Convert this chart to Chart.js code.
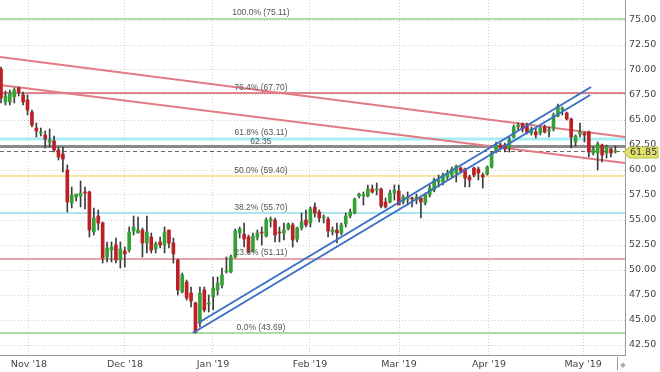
<!DOCTYPE html>
<html>
<head>
<meta charset="utf-8">
<script src="https://cdn.jsdelivr.net/npm/chart.js@4.4.0/dist/chart.umd.min.js"></script>
<style>
  html, body { margin: 0; padding: 0; background: #fff; }
  #wrap { width: 660px; height: 372px; position: relative; }
</style>
</head>
<body>
<div id="wrap"><canvas id="chart"></canvas></div>
<script>
// Velas diarias, finales de oct '18 a mayo '19
const opens = [70.1,66.8,66.8,67.3,68.2,67.5,67.0,65.8,64.2,63.7,63.5,62.8,62.9,62.0,61.6,60.0,56.7,57.3,57.4,57.8,
  57.8,53.8,55.4,54.7,51.3,52.0,52.5,51.0,51.9,52.0,53.9,53.7,54.0,52.7,53.3,52.1,52.8,52.5,54.0,52.7,
  51.0,47.8,48.8,47.7,46.7,44.7,48.0,46.6,47.3,48.0,48.5,49.8,49.8,51.3,53.7,53.6,53.3,51.9,53.3,53.8,
  53.4,54.9,55.0,53.8,53.7,54.1,54.5,53.1,54.2,55.0,54.7,56.3,55.8,55.2,55.1,53.8,54.0,53.7,54.6,55.4,
  55.7,57.4,57.4,57.4,58.1,58.0,58.1,56.8,56.8,57.7,57.9,56.8,57.1,57.2,57.0,57.2,56.7,57.5,58.0,58.8,
  58.8,59.3,59.5,59.7,60.2,60.1,59.3,60.2,60.1,59.5,59.6,60.3,61.8,62.5,62.5,62.2,63.3,64.3,64.6,64.4,
  63.7,63.8,63.7,64.3,63.9,64.1,65.4,66.0,65.7,65.1,62.8,63.6,63.7,63.8,61.7,61.7,62.5,61.7,62.1,61.8];
const highs = [70.3,67.9,68.0,68.2,68.3,67.8,67.5,66.0,64.7,64.2,63.9,64.1,63.4,62.3,62.3,60.5,58.3,57.6,58.9,58.3,
  57.9,56.2,56.0,54.8,52.8,52.8,53.2,52.8,52.3,54.3,55.4,55.3,54.2,55.4,53.7,52.8,53.3,54.3,54.0,53.2,
  51.1,49.7,49.0,48.3,46.8,48.3,48.3,47.5,49.3,49.3,50.2,51.3,51.5,54.1,54.3,54.7,53.5,53.7,54.0,54.3,
  55.2,55.3,55.2,54.3,54.7,54.7,54.7,54.3,55.7,56.0,56.3,56.7,56.0,55.5,55.3,54.3,54.7,54.7,55.7,56.1,
  57.2,57.7,57.8,58.5,58.5,58.7,58.2,57.2,58.0,58.5,58.5,57.5,57.8,57.3,57.6,57.2,57.7,58.5,59.2,59.5,
  59.7,60.0,60.3,60.5,60.3,60.2,59.5,60.3,60.3,59.7,60.4,61.8,62.8,62.7,62.7,63.3,64.5,64.7,64.7,64.7,
  64.3,64.2,64.3,64.5,64.3,65.7,66.6,66.3,65.8,65.2,63.5,64.7,63.8,63.9,62.3,62.8,62.6,62.5,62.2,62.4];
const lows = [66.7,66.5,66.5,66.7,67.4,66.5,65.5,64.3,63.3,63.4,62.2,62.3,61.8,61.0,59.8,55.8,56.2,56.9,56.3,56.1,
  53.3,53.5,54.0,50.7,50.8,50.8,50.7,50.2,50.3,51.8,53.5,53.7,51.3,51.7,51.7,51.7,52.2,51.7,52.2,50.7,
  47.5,47.7,47.0,46.3,43.69,44.3,45.8,45.8,46.0,47.5,48.2,49.7,49.7,51.2,53.2,52.3,51.7,51.8,53.0,52.5,
  53.3,54.3,52.8,52.8,53.0,54.0,52.3,52.8,54.0,54.3,54.3,55.3,54.8,54.7,53.3,53.5,52.7,53.5,54.3,55.2,
  55.6,57.2,56.5,57.3,57.7,57.5,56.2,56.2,56.7,57.0,56.5,56.6,56.5,56.3,56.6,55.2,56.5,57.3,57.8,58.3,
  58.5,59.0,59.3,58.8,59.7,58.3,58.3,59.3,59.0,58.2,59.5,60.2,61.7,62.0,61.8,61.8,63.2,64.0,63.8,63.6,
  63.5,63.2,63.5,63.7,63.3,63.9,65.3,65.5,65.0,62.2,62.4,63.3,62.8,61.3,61.5,60.0,60.8,61.2,61.3,61.7];
const closes = [67.2,67.4,67.7,68.0,67.8,66.8,66.0,64.5,63.9,63.8,63.1,63.0,62.0,61.3,61.1,56.8,57.5,57.6,57.7,57.7,
  54.0,55.2,54.7,51.2,52.2,52.3,51.0,52.1,51.6,53.8,54.3,54.0,52.7,53.8,52.0,52.6,52.5,53.8,52.7,51.6,
  48.0,49.5,47.2,46.9,43.8,47.7,46.0,46.7,48.2,48.7,49.5,49.9,51.3,53.9,54.1,53.1,51.8,53.4,53.7,53.7,
  55.0,55.1,53.5,53.7,54.0,54.6,53.0,54.2,54.8,54.5,56.1,55.7,55.2,55.3,53.9,54.0,53.7,54.5,55.4,55.8,
  57.1,57.6,57.5,58.1,57.8,58.1,56.4,56.3,57.7,58.0,56.5,57.3,57.3,57.1,57.3,56.8,57.5,58.2,59.0,59.0,
  59.5,59.7,60.1,60.4,59.9,59.2,59.0,59.5,59.7,59.3,60.3,61.7,62.5,62.2,62.1,63.0,64.3,64.5,64.1,63.7,
  64.1,63.5,64.2,63.8,64.0,65.5,66.4,66.2,65.1,63.3,63.4,63.8,63.5,61.8,62.1,62.6,61.5,62.3,61.7,61.85];

// Eje X: posicion (en velas) del inicio de cada mes
const monthLabels = ["Nov '18", "Dec '18", "Jan '19", "Feb '19", "Mar '19", "Apr '19", "May '19"];
const monthPos = [6.33, 28.05, 47.96, 69.9, 90.05, 110.4, 131.7];
const yTicks = [42.5, 45, 47.5, 50, 52.5, 55, 57.5, 60, 62.5, 65, 67.5, 70, 72.5, 75];

// Niveles de Fibonacci
const fibNames = ['100.0%', '76.4%', '61.8%', '50.0%', '38.2%', '23.6%', '0.0%'];
const fibValues = [75.11, 67.70, 63.11, 59.40, 55.70, 51.11, 43.69];
const fibColors = ['#9ad38d', '#d85a64', '#a6eef4', '#f6e7a6', '#8fdde8', '#e6a4ac', '#a9dfa0'];
const fibWidths = [1.5, 1.5, 3, 2, 1.5, 2, 2];

const pivotValue = 62.35;
const lastPrice = 61.85;

// Lineas de tendencia: [indice inicio, valor inicio, indice fin, valor fin]
const xMin = -0.23, xMax = 141.18;
const resUpper = [xMin, 71.3, xMax, 63.3];
const resLower = [xMin, 68.5, xMax, 60.7];
const chanUpper = [44.6, 44.7, 133.5, 68.3];
const chanLower = [43.4, 43.7, 133.3, 67.5];

const fibLabelPos = 58.8;

const idx = closes.map((c, i) => i);
const upColor = '#33a133';
const downColor = '#bd1f26';

function seg(s) {
    return [{ x: s[0], y: s[1] }, { x: s[2], y: s[3] }];
}
function hLine(v) {
    return [{ x: xMin, y: v }, { x: xMax, y: v }];
}

const datasets = [];

// Fib + pivote + ultimo precio
fibValues.forEach((v, i) => {
    datasets.push({
        type: 'line', data: hLine(v), borderColor: fibColors[i], borderWidth: fibWidths[i],
        pointRadius: 0, fill: false, order: 10
    });
});
datasets.push({ type: 'line', data: hLine(pivotValue), borderColor: '#8a8a8a', borderWidth: 3, pointRadius: 0, order: 9 });
datasets.push({ type: 'line', data: hLine(lastPrice), borderColor: '#666', borderWidth: 1, borderDash: [4, 3], pointRadius: 0, order: 9 });

// Resistencias (rojas)
[resUpper, resLower].forEach(s => {
    datasets.push({ type: 'line', data: seg(s), borderColor: '#e27b84', borderWidth: 2, pointRadius: 0, order: 8 });
});

// Mechas y cuerpos
datasets.push({
    type: 'bar',
    data: idx.map(i => ({ x: i, y: [lows[i], highs[i]] })),
    backgroundColor: '#3c3c3c', barThickness: 1, grouped: false, order: 3
});
datasets.push({
    type: 'bar',
    data: idx.map(i => ({ x: i, y: [opens[i], closes[i]] })),
    backgroundColor: idx.map(i => closes[i] >= opens[i] ? upColor : downColor),
    barThickness: 3, minBarLength: 1, grouped: false, order: 2
});

// Canal alcista (azul)
[chanUpper, chanLower].forEach(s => {
    datasets.push({ type: 'line', data: seg(s), borderColor: '#3a6fc4', borderWidth: 2, pointRadius: 0, order: 1 });
});

const overlay = {
    id: 'overlay',
    afterDatasetsDraw(chart) {
        const { ctx, scales: { x, y } } = chart;
        ctx.save();
        ctx.font = '8.5px "Liberation Sans", Arial, sans-serif';
        ctx.fillStyle = '#555';
        ctx.textAlign = 'center';
        ctx.textBaseline = 'bottom';
        const cx = x.getPixelForValue(fibLabelPos);
        fibValues.forEach((v, i) => {
            ctx.fillText(fibNames[i] + ' (' + v.toFixed(2) + ')', cx, y.getPixelForValue(v) - 1.5);
        });
        ctx.fillText(pivotValue.toFixed(2), cx, y.getPixelForValue(pivotValue) - 1);
        ctx.restore();
    },
    afterDraw(chart) {
        const { ctx, chartArea, scales: { y } } = chart;
        const py = Math.round(y.getPixelForValue(lastPrice)) + 0.5;
        const left = chartArea.right + 2;
        ctx.save();
        ctx.beginPath();
        ctx.moveTo(left - 3, py);
        ctx.lineTo(left + 2, py - 5.5);
        ctx.lineTo(658, py - 5.5);
        ctx.lineTo(658, py + 5.5);
        ctx.lineTo(left + 2, py + 5.5);
        ctx.closePath();
        ctx.fillStyle = '#e2e36c';
        ctx.fill();
        ctx.strokeStyle = '#b8b94a';
        ctx.lineWidth = 1;
        ctx.stroke();
        ctx.font = '9.5px "DejaVu Sans", Verdana, sans-serif';
        ctx.fillStyle = '#333';
        ctx.textAlign = 'left';
        ctx.textBaseline = 'middle';
        ctx.fillText(lastPrice.toFixed(2), left + 3, py + 0.5);
        // marcador inferior derecho
        ctx.strokeStyle = '#999';
        ctx.beginPath();
        ctx.moveTo(chartArea.right - 7.5, chartArea.bottom + 2);
        ctx.lineTo(chartArea.right - 7.5, chartArea.bottom + 15);
        ctx.stroke();
        ctx.fillStyle = '#aaa';
        ctx.font = '7px "DejaVu Sans", sans-serif';
        ctx.textAlign = 'center';
        ctx.fillText('\u25C6', chartArea.right - 2, chartArea.bottom + 10);
        ctx.restore();
    }
};

new Chart(document.getElementById('chart').getContext('2d'), {
    type: 'bar',
    data: { datasets: datasets },
    plugins: [overlay],
    options: {
        responsive: true,
        maintainAspectRatio: false,
        animation: false,
        layout: { padding: 0 },
        plugins: { legend: { display: false }, tooltip: { enabled: false } },
        scales: {
            x: {
                type: 'linear', offset: false, min: xMin, max: xMax,
                grid: { color: '#cfcfcf', drawTicks: false, offset: false },
                border: { color: '#9a9a9a', dash: [1, 2] },
                ticks: {
                    autoSkip: false, maxRotation: 0, padding: 4, color: '#444',
                    font: { family: '"DejaVu Sans", Verdana, sans-serif', size: 9.5 },
                    callback: (v, i) => monthLabels[i]
                },
                afterBuildTicks: s => { s.ticks = monthPos.map(v => ({ value: v })); },
                afterFit: s => { s.height = 17; s.paddingLeft = 0; s.paddingRight = 0; }
            },
            y: {
                type: 'linear', position: 'right', min: 41.5, max: 77, beginAtZero: false,
                grid: { color: '#cfcfcf', drawTicks: false },
                border: { color: '#9a9a9a', dash: [1, 2] },
                ticks: {
                    padding: 4, color: '#444',
                    font: { family: '"DejaVu Sans", Verdana, sans-serif', size: 9.5 },
                    callback: v => v.toFixed(2)
                },
                afterBuildTicks: s => { s.ticks = yTicks.map(v => ({ value: v })); },
                afterFit: s => { s.width = 35; s.paddingTop = 0; s.paddingBottom = 0; }
            }
        }
    }
});
</script>
</body>
</html>
